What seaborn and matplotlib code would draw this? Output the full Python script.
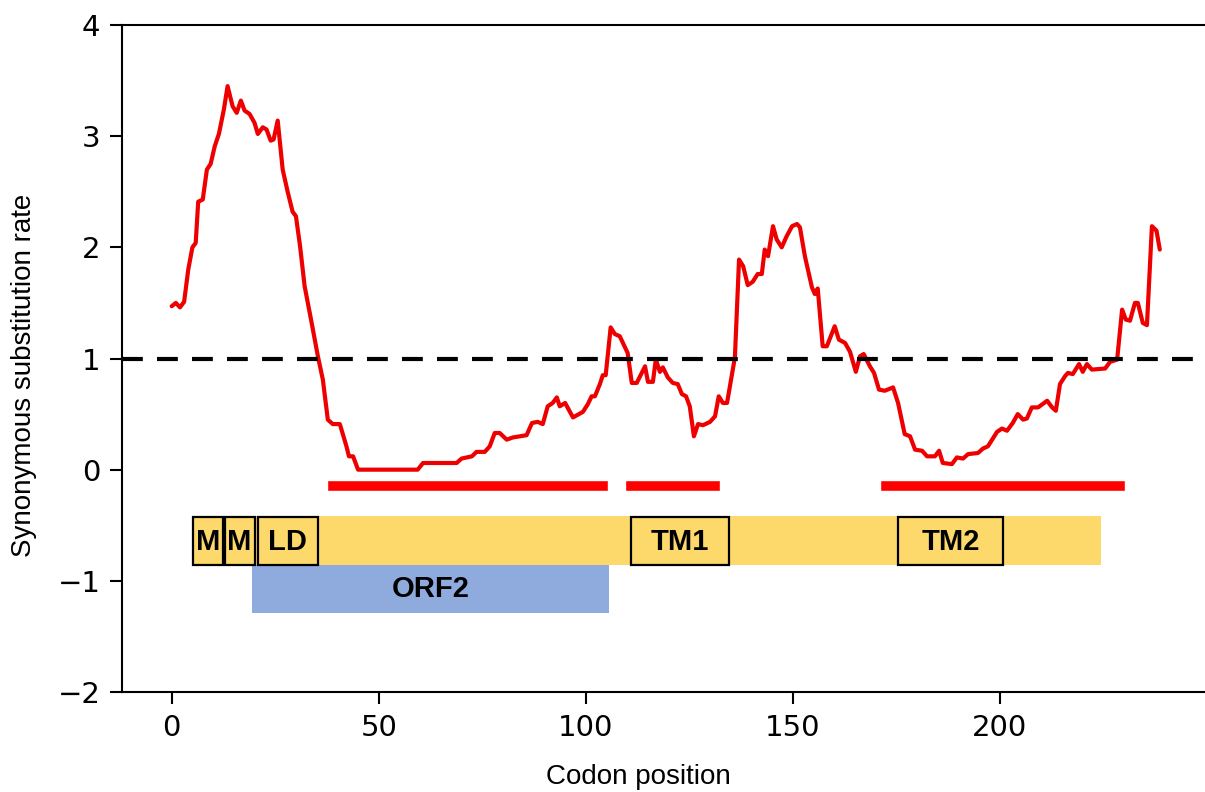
import numpy as np
import pandas as pd
import matplotlib
matplotlib.use("Agg")
import matplotlib.pyplot as plt
from matplotlib.patches import Rectangle
import seaborn as sns

# Sliding-window synonymous substitution rate along the ORF
codon = [0, 1, 2, 3, 4, 5, 5.8, 6.4, 7.5, 8.5, 9.4, 10.4, 11.4, 12.6, 13.5, 14.7,
         15.7, 16.7, 17.6, 18.8, 20, 20.8, 22, 22.9, 23.9, 24.6, 25.6, 26.8, 28,
         29.2, 30, 31, 32.1, 33.8, 35.3, 36.5, 37.7, 38.9, 40.6, 42.2, 42.8, 43.8,
         45, 59.4, 60.7, 66.4, 68.8, 70, 72.5, 73.6, 75.6, 76.8, 78, 79.2, 80.9,
         82.4, 85.7, 87, 88.4, 89.6, 90.8, 92, 93, 93.7, 95, 96.9, 99.3, 100.5,
         101.4, 102.2, 103.4, 104.1, 104.8, 106, 107, 108.2, 110.1, 111.1, 112.3,
         114.3, 115, 116.2, 116.9, 117.9, 118.6, 119.8, 121, 122.2, 123.2, 124.2,
         125.1, 126.1, 127.1, 128.3, 130, 131.2, 132.1, 133.1, 134.1, 136, 137,
         138, 139.1, 140.3, 141.5, 142.5, 143.2, 144, 145.2, 146.1, 147.3, 148.5,
         149.8, 151, 151.7, 152.9, 154.6, 155.3, 156, 157.2, 158.2, 160.1, 161.1,
         162.6, 163.8, 165.2, 166.2, 167.1, 168.6, 169.6, 170.8, 172.2, 174.2,
         175.4, 177, 178.3, 179.5, 181.2, 182.4, 184.3, 185.3, 186.2, 188.4,
         189.6, 191.1, 192.3, 194.7, 195.9, 197.1, 199.3, 200.5, 201.7, 203.1,
         204.3, 205.6, 206.5, 207.7, 209.2, 211.4, 212.6, 213.5, 214.5, 215.7,
         216.4, 217.6, 219.1, 220, 221, 222.2, 225.4, 226.6, 228.3, 229.5, 230.4,
         231.4, 232.6, 233.3, 234.5, 235.5, 236.7, 237.8, 238.6]
ds_rate = [1.47, 1.50, 1.46, 1.51, 1.80, 2.00, 2.04, 2.41, 2.43, 2.70, 2.75, 2.91,
           3.02, 3.24, 3.45, 3.27, 3.21, 3.32, 3.23, 3.20, 3.12, 3.02, 3.08, 3.06,
           2.96, 2.97, 3.14, 2.70, 2.50, 2.32, 2.28, 2.01, 1.65, 1.32, 1.02, 0.81,
           0.45, 0.41, 0.41, 0.21, 0.12, 0.12, 0.0, 0.0, 0.06, 0.06, 0.06, 0.10,
           0.12, 0.16, 0.16, 0.21, 0.33, 0.33, 0.27, 0.29, 0.31, 0.42, 0.43, 0.41,
           0.57, 0.60, 0.65, 0.57, 0.60, 0.47, 0.52, 0.59, 0.66, 0.66, 0.77, 0.85,
           0.85, 1.28, 1.22, 1.20, 1.05, 0.78, 0.78, 0.93, 0.79, 0.79, 0.99, 0.88,
           0.92, 0.83, 0.78, 0.77, 0.68, 0.66, 0.57, 0.30, 0.41, 0.40, 0.43, 0.48,
           0.66, 0.60, 0.60, 1.01, 1.89, 1.83, 1.66, 1.69, 1.76, 1.76, 1.98, 1.92,
           2.19, 2.07, 2.00, 2.10, 2.19, 2.21, 2.18, 1.92, 1.64, 1.58, 1.63, 1.11,
           1.11, 1.29, 1.17, 1.14, 1.06, 0.88, 1.02, 1.04, 0.93, 0.87, 0.72, 0.71,
           0.74, 0.60, 0.32, 0.30, 0.18, 0.17, 0.12, 0.12, 0.17, 0.06, 0.05, 0.11,
           0.10, 0.14, 0.15, 0.19, 0.21, 0.34, 0.37, 0.35, 0.42, 0.50, 0.45, 0.46,
           0.56, 0.56, 0.62, 0.56, 0.53, 0.77, 0.84, 0.87, 0.86, 0.95, 0.88, 0.95,
           0.90, 0.91, 0.97, 0.99, 1.44, 1.35, 1.34, 1.50, 1.50, 1.32, 1.30, 2.19,
           2.15, 1.98]

# Regions under purifying selection (start, end codon)
low_rate_start = [37.4, 109.5, 171.0]
low_rate_end = [105.3, 132.5, 230.2]

# Genome map: main ORF, its domains, and the overlapping ORF2
orf1_span = (5.0, 224.3)
domain_names = ["M", "M", "LD", "TM1", "TM2"]
domain_start = [5.1, 12.8, 20.8, 110.9, 175.4]
domain_end = [12.3, 20.0, 35.3, 134.6, 200.7]
orf2_name = "ORF2"
orf2_span = (19.3, 105.6)

x_ticks = [0, 50, 100, 150, 200]
y_ticks = [-2, -1, 0, 1, 2, 3, 4]

sns.set_style("ticks")
plt.rcParams["font.family"] = ["DejaVu Sans"]
plt.rcParams["text.color"] = "black"

fig = plt.figure(figsize=(12.05, 7.92), dpi=100)
ax = fig.add_axes([122 / 1205, 100 / 792, 1085 / 1205, 667 / 792])

df = pd.DataFrame({"codon": codon, "rate": ds_rate})
sns.lineplot(data=df, x="codon", y="rate", color="#ee0000", linewidth=3.0,
             estimator=None, ax=ax, zorder=3)
ax.axhline(1, color="black", lw=3, ls=(0, (5.0, 3.4)), zorder=4)

red_h = (-0.195, 0.105)
ax.broken_barh([(s, e - s) for s, e in zip(low_rate_start, low_rate_end)],
               red_h, facecolors="#ff0000", zorder=2)

band_y0, band_y1 = -0.86, -0.42
ax.broken_barh([(orf1_span[0], orf1_span[1] - orf1_span[0])],
               (band_y0, band_y1 - band_y0), facecolors="#fdd86b",
               edgecolor="none", zorder=1)
ax.broken_barh([(orf2_span[0], orf2_span[1] - orf2_span[0])],
               (-1.29, -0.86 + 1.29), facecolors="#8faadc",
               edgecolor="none", zorder=1)

label_font = dict(family=["Liberation Sans", "DejaVu Sans"], fontsize=21,
                  fontweight="bold", ha="center", va="center", color="black")
for name, s, e in zip(domain_names, domain_start, domain_end):
    ax.add_patch(Rectangle((s, band_y0 + 0.005), e - s, band_y1 - band_y0 - 0.01,
                           facecolor="#fdd86b", edgecolor="black", lw=1.6,
                           zorder=2))
    ax.text((s + e) / 2, (band_y0 + band_y1) / 2 - 0.01, name, zorder=3,
            **label_font)
ax.text((orf2_span[0] + orf2_span[1]) / 2, -1.075, orf2_name, zorder=3,
        **label_font)

ax.set_xlim(-12.0, 250.0)
ax.set_ylim(-2, 4)
ax.set_xticks(x_ticks)
ax.set_yticks(y_ticks)
ax.tick_params(axis="both", labelsize=21, length=8.5, width=1.5, pad=7,
               colors="black")
for side in ["left", "bottom", "top", "right"]:
    ax.spines[side].set_visible(True)
    ax.spines[side].set_linewidth(1.5)
    ax.spines[side].set_color("black")

axis_font = dict(family=["Liberation Sans", "DejaVu Sans"], fontsize=20,
                 color="black")
ax.set_xlabel("Codon position", **axis_font)
ax.set_ylabel("Synonymous substitution rate", **axis_font)
ax.xaxis.set_label_coords(0.476, -0.108)
ax.yaxis.set_label_coords(-0.078, 0.475)

fig.savefig("out.png", dpi=100, facecolor="white")
